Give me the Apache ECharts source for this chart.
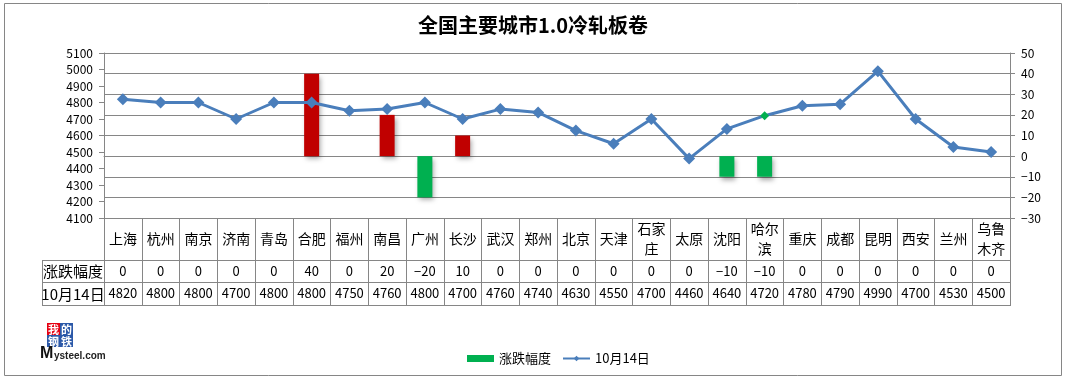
<!DOCTYPE html>
<html>
<head>
<meta charset="utf-8">
<script src="https://cdn.jsdelivr.net/npm/echarts@6/dist/echarts.min.js"></script>
<style>
html,body{margin:0;padding:0;background:#fff;}
#chart{width:1066px;height:382px;}
</style>
</head>
<body>
<div id="chart"></div>
<script>
// ---- data ----
const titleText = '全国主要城市1.0冷轧板卷';
const categories = ['上海','杭州','南京','济南','青岛','合肥','福州','南昌','广州','长沙','武汉','郑州','北京','天津','石家庄','太原','沈阳','哈尔滨','重庆','成都','昆明','西安','兰州','乌鲁木齐'];
const changes = [0,0,0,0,0,40,0,20,-20,10,0,0,0,0,0,0,-10,-10,0,0,0,0,0,0];
const prices = [4820,4800,4800,4700,4800,4800,4750,4760,4800,4700,4760,4740,4630,4550,4700,4460,4640,4720,4780,4790,4990,4700,4530,4500];
const seriesNames = ['涨跌幅度','10月14日'];
const leftAxisRange = [4100, 5100, 100];
const rightAxisRange = [-30, 50, 10];
const greenMarkerCity = '哈尔滨';

// ---- styling ----
const FONT = '"Noto Sans CJK SC", "Noto Sans", sans-serif';
const GRID_COLOR = '#868686';
const RED = '#C00000';
const GREEN = '#00B050';
const BLUE = '#4A7EBB';

const chart = echarts.init(document.getElementById('chart'), null, {renderer: 'canvas'});

const fmtSigned = v => (v < 0 ? '\u2212' + Math.abs(v) : String(v));
const splitName = s => (s.length > 2 ? s.slice(0, 2) + '\n' + s.slice(2) : s);

function tableAxis(margin, fontSize, formatter) {
  return {
    type: 'category',
    gridIndex: 0,
    data: categories,
    position: 'bottom',
    axisLine: {show: false},
    axisTick: {show: false},
    splitLine: {show: false},
    axisLabel: {
      interval: 0, margin: margin, verticalAlign: 'middle',
      fontSize: fontSize, color: '#000', fontFamily: FONT,
      formatter: formatter
    }
  };
}

const line = (x1, y1, x2, y2) => ({
  type: 'line', silent: true,
  shape: {x1: x1, y1: y1, x2: x2, y2: y2},
  style: {stroke: GRID_COLOR, lineWidth: 1}
});

const option = {
  backgroundColor: '#fff',
  animation: false,
  textStyle: {fontFamily: FONT},
  title: {
    text: titleText, left: 'center', top: 15, padding: 0,
    textStyle: {fontSize: 20, fontWeight: 'bold', color: '#000', fontFamily: FONT}
  },
  legend: {
    left: 462, top: 347,
    itemWidth: 27, itemHeight: 7, itemGap: 11,
    textStyle: {fontSize: 13, color: '#000', fontFamily: FONT},
    data: [{name: seriesNames[0], icon: 'rect'}, {name: seriesNames[1]}]
  },
  grid: [
    {left: 104, right: 56, top: 53, bottom: 164, containLabel: false, outerBoundsMode: 'none'},
    {left: 104, right: 56, top: 218, bottom: 77, containLabel: false, outerBoundsMode: 'none'}
  ],
  xAxis: [
    {
      type: 'category',
      gridIndex: 0,
      data: categories,
      position: 'bottom',
      boundaryGap: true,
      axisLine: {show: true, lineStyle: {color: GRID_COLOR, width: 1}},
      axisTick: {show: false},
      splitLine: {show: false},
      axisLabel: {
        interval: 0, margin: 21, verticalAlign: 'middle', lineHeight: 20,
        fontSize: 14, color: '#000', fontFamily: FONT,
        formatter: splitName
      }
    },
    tableAxis(53, 13, (v, i) => fmtSigned(changes[i])),
    tableAxis(75.5, 13, (v, i) => String(prices[i])),
    {
      // column separators of the data table
      type: 'category',
      gridIndex: 1,
      data: categories,
      boundaryGap: true,
      axisLine: {show: false},
      axisTick: {show: false},
      axisLabel: {show: false},
      splitLine: {show: true, interval: 0, lineStyle: {color: GRID_COLOR, width: 1}}
    }
  ],
  yAxis: [
    {
      type: 'value', position: 'left', gridIndex: 0,
      min: leftAxisRange[0], max: leftAxisRange[1], interval: leftAxisRange[2],
      axisLine: {show: true, lineStyle: {color: GRID_COLOR}},
      axisTick: {show: true, length: 5, lineStyle: {color: GRID_COLOR}},
      splitLine: {show: false},
      axisLabel: {fontSize: 12, color: '#000', margin: 11, fontFamily: FONT, formatter: v => String(v)}
    },
    {
      type: 'value', position: 'right', gridIndex: 0,
      min: rightAxisRange[0], max: rightAxisRange[1], interval: rightAxisRange[2],
      axisLine: {show: true, lineStyle: {color: GRID_COLOR}},
      axisTick: {show: true, length: 5, lineStyle: {color: GRID_COLOR}},
      splitLine: {show: true, lineStyle: {color: GRID_COLOR, width: 1}},
      axisLabel: {fontSize: 12, color: '#000', margin: 11, fontFamily: FONT, formatter: v => fmtSigned(v)}
    },
    {
      type: 'value', gridIndex: 1, min: 0, max: 1, show: false
    }
  ],
  series: [
    {
      name: seriesNames[0],
      type: 'bar',
      xAxisIndex: 0, yAxisIndex: 1,
      barWidth: 15,
      z: 2,
      itemStyle: {
        color: GREEN,
        shadowColor: 'rgba(0,0,0,0.35)', shadowBlur: 5, shadowOffsetX: 2, shadowOffsetY: 3
      },
      data: changes.map(v => ({value: v, itemStyle: {color: v >= 0 ? RED : GREEN}}))
    },
    {
      name: seriesNames[1],
      type: 'line',
      xAxisIndex: 0, yAxisIndex: 0,
      z: 3,
      symbol: 'diamond',
      symbolSize: [12, 12],
      color: BLUE,
      lineStyle: {color: BLUE, width: 3},
      itemStyle: {color: BLUE},
      data: prices.map((v, i) => categories[i] === greenMarkerCity
        ? {value: v, symbolSize: [9, 9], itemStyle: {color: GREEN}}
        : v)
    }
  ],
  graphic: [
    // outer chart border
    {type: 'rect', silent: true, shape: {x: 4.5, y: 3.5, width: 1057, height: 372},
     style: {fill: null, stroke: GRID_COLOR, lineWidth: 1}, z: -1},
    // table borders
    line(42, 260.5, 1010, 260.5),
    line(42, 282.5, 1010, 282.5),
    line(42, 305.5, 1010, 305.5),
    line(42.5, 260, 42.5, 306),
    line(104.5, 218, 104.5, 306),
    line(1010.5, 218, 1010.5, 306),
    {type: 'text', silent: true, style: {x: 73, y: 271, text: seriesNames[0], fill: '#000',
      font: '15px ' + FONT, align: 'center', verticalAlign: 'middle'}},
    {type: 'text', silent: true, style: {x: 73, y: 294, text: seriesNames[1], fill: '#000',
      font: '15px ' + FONT, align: 'center', verticalAlign: 'middle'}},
    // Mysteel logo
    {type: 'group', left: 40, top: 323, silent: true, children: [
      {type: 'rect', shape: {x: 7, y: 0, width: 13, height: 12}, style: {fill: '#E60012'}},
      {type: 'rect', shape: {x: 20, y: 0, width: 13, height: 12}, style: {fill: '#2B58A8'}},
      {type: 'rect', shape: {x: 7, y: 12, width: 13, height: 12}, style: {fill: '#2B58A8'}},
      {type: 'rect', shape: {x: 20, y: 12, width: 13, height: 12}, style: {fill: '#2B58A8'}},
      {type: 'text', style: {x: 13.5, y: 6.5, text: '我', fill: '#fff', font: 'bold 11px ' + FONT, align: 'center', verticalAlign: 'middle'}},
      {type: 'text', style: {x: 26.5, y: 6.5, text: '的', fill: '#fff', font: 'bold 11px ' + FONT, align: 'center', verticalAlign: 'middle'}},
      {type: 'text', style: {x: 13.5, y: 18.5, text: '钢', fill: '#fff', font: 'bold 11px ' + FONT, align: 'center', verticalAlign: 'middle'}},
      {type: 'text', style: {x: 26.5, y: 18.5, text: '铁', fill: '#fff', font: 'bold 11px ' + FONT, align: 'center', verticalAlign: 'middle'}},
      {type: 'text', style: {x: 0, y: 23, text: 'M', fill: '#111', font: 'bold 16px "Liberation Sans", sans-serif'}},
      {type: 'text', style: {x: 14, y: 28, text: 'ysteel.com', fill: '#222', font: 'bold 10px "Liberation Sans", sans-serif'}}
    ]}
  ]
};

chart.setOption(option);
</script>
</body>
</html>
